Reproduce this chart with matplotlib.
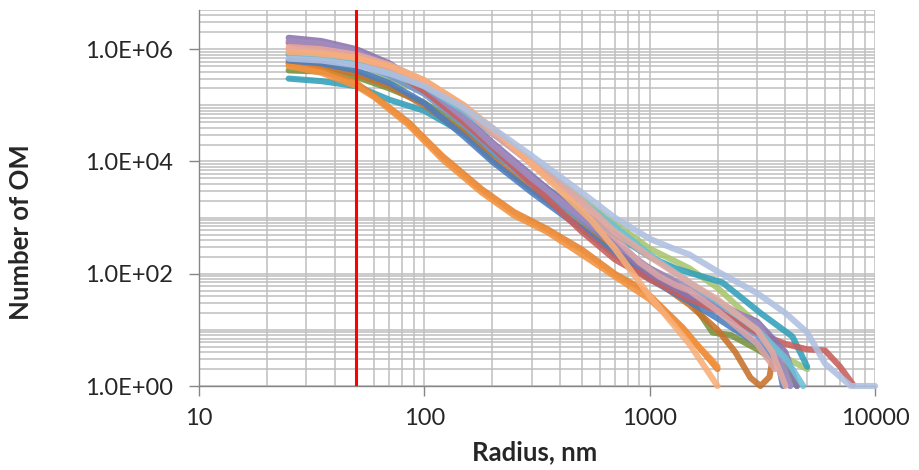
import numpy as np
from matplotlib import pyplot as plt
from matplotlib.ticker import LogLocator, FixedLocator, FuncFormatter, NullFormatter

plt.rcParams['font.family'] = ['Lato', 'DejaVu Sans']

# radius (nm) and number of OM for each measured sample
purple_x = [25, 35, 50, 70, 100, 150, 200, 300, 500, 700, 1000, 1500, 2000, 3000, 4000, 4500]
purple_y = [1.6e6, 1.4e6, 1.0e6, 5.6e5, 2.2e5, 6.3e4, 2.2e4, 5.6e3, 1.0e3, 320, 100, 40, 28, 14, 4, 1]

red_x = [25, 35, 50, 70, 100, 150, 200, 300, 500, 700, 1000, 1500, 2000, 3000, 4000, 5000, 6000, 7000, 8000]
red_y = [1.3e6, 1.1e6, 8.0e5, 4.5e5, 1.8e5, 5.0e4, 1.8e4, 4.0e3, 560, 180, 80, 35, 22, 9, 5.6, 4.5, 4.3, 2.2, 1.05]

pink_x = [25, 35, 50, 70, 100, 150, 200, 300, 500, 700, 900, 1100, 1300, 1500, 2000, 3000, 3600]
pink_y = [1.0e6, 9.0e5, 7.0e5, 4.5e5, 2.5e5, 9.0e4, 3.2e4, 9.0e3, 1.6e3, 450, 160, 90, 63, 50, 22, 5.6, 2]

lightorange_x = [25, 35, 50, 70, 100, 150, 200, 300, 500, 550, 700, 1000, 1500, 2000]
lightorange_y = [9.0e5, 8.3e5, 7.0e5, 5.0e5, 2.8e5, 1.0e5, 4.0e4, 9.0e3, 1.3e3, 900, 280, 40, 5.6, 1]

periwinkle_x = [25, 35, 50, 70, 100, 150, 200, 300, 500, 700, 1000, 1250, 1500, 2000, 3000, 4000, 5000, 6000, 7800, 10000]
periwinkle_y = [6.8e5, 6.3e5, 5.2e5, 3.7e5, 2.2e5, 9.0e4, 4.0e4, 1.26e4, 2.8e3, 1.0e3, 420, 290, 220, 110, 45, 20, 9, 2.5, 1, 1]

lightgreen_x = [25, 35, 50, 70, 100, 150, 200, 300, 500, 700, 1000, 1500, 2000, 3000, 4000, 5000]
lightgreen_y = [5.0e5, 4.8e5, 4.0e5, 2.8e5, 1.8e5, 7.0e4, 3.2e4, 1.0e4, 2.2e3, 800, 280, 125, 56, 12.6, 3.2, 2]

darkgreen_x = [25, 35, 50, 70, 100, 150, 200, 300, 500, 700, 1000, 1300, 1600, 1900, 2300, 3000, 4000, 4500]
darkgreen_y = [4.2e5, 4.0e5, 3.2e5, 2.0e5, 1.1e5, 4.0e4, 1.6e4, 4.5e3, 900, 280, 125, 70, 25, 9, 8, 4.5, 2.2, 1]

teal_x = [25, 35, 50, 70, 100, 150, 200, 300, 500, 700, 1000, 1300, 1700, 2100, 2500, 3100, 4300, 5000]
teal_y = [3.0e5, 2.7e5, 2.2e5, 1.26e5, 8.0e4, 3.2e4, 1.4e4, 5.0e3, 1.26e3, 500, 200, 125, 90, 70, 40, 20, 7.6, 2.2]

blue_x = [25, 35, 50, 70, 100, 150, 200, 300, 500, 700, 1000, 1500, 2000, 3000, 3700, 3900]
blue_y = [6.3e5, 5.6e5, 4.2e5, 2.5e5, 1.1e5, 2.8e4, 1.0e4, 2.8e3, 630, 220, 80, 32, 16, 5.6, 2.9, 1]

cornflower_x = [25, 35, 50, 70, 100, 150, 200, 300, 500, 700, 1000, 1500, 2000, 3000, 3800, 4200]
cornflower_y = [8.0e5, 7.2e5, 5.6e5, 3.4e5, 1.6e5, 4.5e4, 1.6e4, 4.0e3, 900, 320, 112, 40, 22, 8, 2, 1]

lightaqua_x = [25, 35, 50, 70, 100, 150, 200, 300, 500, 700, 1000, 1500, 2000, 3000, 4000, 4800]
lightaqua_y = [8.3e5, 7.8e5, 6.0e5, 4.0e5, 2.2e5, 8.0e4, 3.2e4, 1.0e4, 2.0e3, 700, 220, 70, 32, 10, 3.2, 1]

orange_a_x = [25, 35, 50, 60, 85, 120, 180, 250, 350, 500, 700, 820, 950, 1400, 2000]
orange_a_y = [5.6e5, 4.2e5, 2.5e5, 1.45e5, 5.0e4, 1.26e4, 3.2e3, 1.26e3, 630, 270, 100, 70, 50, 11, 2]

orange_b_x = [25, 35, 50, 60, 85, 120, 180, 250, 350, 500, 700, 1000, 1400, 1900, 2000]
orange_b_y = [5.0e5, 3.8e5, 2.2e5, 1.4e5, 4.5e4, 1.1e4, 2.8e3, 1.1e3, 560, 220, 90, 35, 10, 2.8, 2.2]

brown_x = [25, 35, 50, 70, 100, 150, 200, 300, 500, 700, 1000, 1500, 2000, 2400, 2800, 3100, 3400, 3500]
brown_y = [5.6e5, 5.0e5, 3.6e5, 2.2e5, 1.0e5, 3.2e4, 1.1e4, 3.2e3, 700, 250, 90, 28, 10, 4, 1.4, 1, 1.45, 2.8]

lavender_x = [25, 35, 50, 70, 100, 150, 200, 300, 500, 700, 1000, 1500, 2000, 3000, 3800, 4200]
lavender_y = [1.4e6, 1.25e6, 9.0e5, 5.0e5, 2.2e5, 6.0e4, 2.0e4, 5.0e3, 1.0e3, 350, 125, 56, 32, 12.6, 3.2, 1]

salmon_x = [25, 35, 50, 70, 100, 150, 200, 300, 500, 700, 1000, 1500, 2000, 3000, 3500, 4000]
salmon_y = [1.1e6, 1.0e6, 8.0e5, 5.3e5, 2.8e5, 1.0e5, 3.5e4, 1.0e4, 2.0e3, 560, 200, 70, 35, 10, 4, 1]

series = [
    (darkgreen_x, darkgreen_y, '#77933C'),
    (lightgreen_x, lightgreen_y, '#A9C56E'),
    (teal_x, teal_y, '#31A0BA'),
    (brown_x, brown_y, '#C8712A'),
    (orange_a_x, orange_a_y, '#E5822F'),
    (orange_b_x, orange_b_y, '#F2923E'),
    (blue_x, blue_y, '#4A7EC0'),
    (cornflower_x, cornflower_y, '#7396CC'),
    (red_x, red_y, '#C85F5C'),
    (purple_x, purple_y, '#8A73AD'),
    (lavender_x, lavender_y, '#A08CC0'),
    (lightaqua_x, lightaqua_y, '#6DC0D6'),
    (pink_x, pink_y, '#D9A3A6'),
    (salmon_x, salmon_y, '#E5A9A0'),
    (lightorange_x, lightorange_y, '#F9AE78'),
    (periwinkle_x, periwinkle_y, '#AFC0E0'),
]

cutoff_radius = 50

fig = plt.figure(figsize=(9.19, 4.70), dpi=100)
ax = fig.add_axes([0.2165, 0.1787, 0.7357, 0.80])

for x, y, c in series:
    ax.plot(x, y, color=c, lw=4.4, alpha=0.88, solid_capstyle='round',
            solid_joinstyle='round', zorder=3, clip_on=False)

ax.axvline(cutoff_radius, color='#FF0000', lw=2.2, zorder=5)

ax.set_xscale('log')
ax.set_yscale('log')
ax.set_xlim(10, 10000)
ax.set_ylim(1, 5e6)

ax.xaxis.set_major_locator(FixedLocator([10, 100, 1000, 10000]))
ax.yaxis.set_major_locator(FixedLocator([1, 1e2, 1e4, 1e6]))
ax.xaxis.set_minor_locator(LogLocator(base=10, subs=np.arange(1, 10), numticks=100))
ax.yaxis.set_minor_locator(LogLocator(base=10, subs=np.arange(1, 10), numticks=100))
ax.xaxis.set_major_formatter(FuncFormatter(lambda v, p: '%d' % v))
ax.yaxis.set_major_formatter(FuncFormatter(lambda v, p: '%.1E' % v))
ax.xaxis.set_minor_formatter(NullFormatter())
ax.yaxis.set_minor_formatter(NullFormatter())

ax.grid(which='both', color='#BFBFBF', lw=1.1, zorder=0)
ax.set_axisbelow(True)
ax.tick_params(which='minor', length=0)
ax.tick_params(which='major', direction='out', length=7, width=1, color='#868686',
               labelsize=17, labelcolor='#262626')
ax.tick_params(axis='y', pad=12)
ax.tick_params(axis='x', pad=9)

for s in ['top', 'right']:
    ax.spines[s].set_visible(False)
for s in ['left', 'bottom']:
    ax.spines[s].set_color('#868686')
    ax.spines[s].set_linewidth(1)

fig.text(535/919, 1-452/470, 'Radius, nm', ha='center', va='center',
         fontsize=18.5, fontweight='bold', color='#262626')
fig.text(21/919, 1-232/470, 'Number of OM', ha='center', va='center', rotation=90,
         fontsize=18.5, fontweight='bold', color='#262626')

fig.savefig('out.png', dpi=100)
